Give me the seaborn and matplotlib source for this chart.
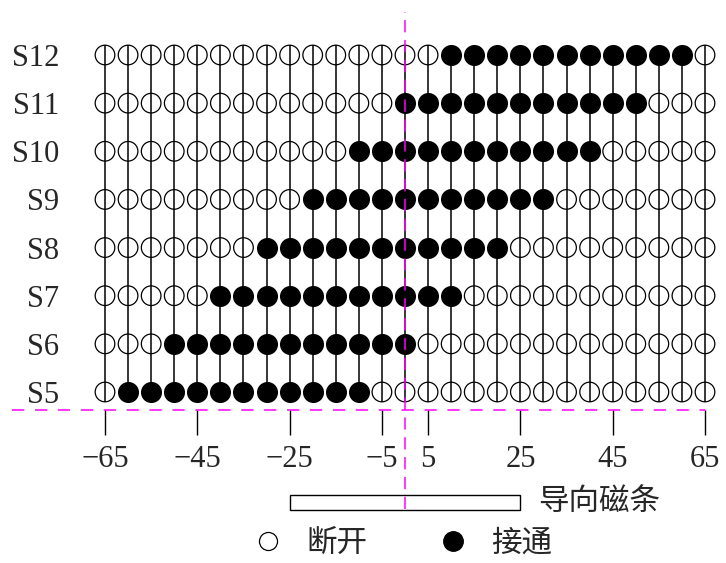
import numpy as np
import pandas as pd
import seaborn as sns
import matplotlib.pyplot as plt
from matplotlib.patches import Rectangle
from matplotlib.lines import Line2D

# sensor rows and positions (mm offset from strip centre)
sensors = ["S5", "S6", "S7", "S8", "S9", "S10", "S11", "S12"]
positions = list(range(-65, 70, 5))
# first / last position at which each sensor is on
on_start = [-60, -50, -40, -30, -20, -10, 0, 10]
on_end = [-10, 0, 10, 20, 30, 40, 50, 60]
xticks = [-65, -45, -25, -5, 5, 25, 45, 65]
strip = (-25, 25)

sns.set_style("white")
plt.rcParams['font.family'] = ['Liberation Serif', 'Noto Sans CJK SC']

rows = []
for i, name in enumerate(sensors):
    for p in positions:
        rows.append({"sensor": name, "row": i + 5, "pos": p,
                     "on": on_start[i] <= p <= on_end[i]})
df = pd.DataFrame(rows)

W, H = 726, 563
fig = plt.figure(figsize=(W / 100, H / 100), dpi=100)
ax = fig.add_axes([70 / W, (H - 410) / H, (W - 70) / W, 410 / H])

pxx = 600 / 130
pxy = (392 - 55) / 7
ax.set_xlim(-65 - 35 / pxx, 65 + 21 / pxx)
ax.set_ylim(5 - 18 / pxy, 12 + 55 / pxy)

# vertical wires
r = 10 / pxy
ax.vlines(positions, 5 - r, 12 + r, color='black', lw=1.1, zorder=1)

off = df[~df.on]
on = df[df.on]
ax.scatter(off.pos, off.row, s=200, facecolors='none', edgecolors='black',
           linewidths=0.9, zorder=2)
sns.scatterplot(data=on, x="pos", y="row", color='black', s=230,
                edgecolor='black', linewidth=0, ax=ax, zorder=3)

# reference lines
ax.hlines(5 - 18 / pxy, -65 - 93 / pxx, 65, color='#ff00ff', lw=1.1,
          linestyles=(0, (8, 7)), clip_on=False, zorder=4)
ax.vlines(0, 5 - 117 / pxy, 12 + 43 / pxy, color='#ff00ff', lw=1.1,
          linestyles=(0, (8, 5)), clip_on=False, zorder=4)

# guide strip
y0 = 5 - 510 / pxy + 392 / pxy
ax.add_patch(Rectangle((strip[0], y0), strip[1] - strip[0], 15 / pxy,
                       fill=False, ec='black', lw=1.0, clip_on=False, zorder=3))
ax.text(strip[1] + 18 / pxx, y0 + 8 / pxy, "导向磁条", fontsize=22,
        va='center', ha='left', family='Noto Sans CJK SC')

ax.set_xticks(xticks)
ax.set_yticks(range(5, 13))
ax.set_yticklabels(sensors)
ax.set_xlabel("")
ax.set_ylabel("")
ax.tick_params(axis='x', direction='out', length=18, width=1.0, pad=7,
               labelsize=22, bottom=True, color='black')
ax.tick_params(axis='y', length=0, pad=8, labelsize=22)
for s in ax.spines.values():
    s.set_visible(False)

handles = [Line2D([], [], ls='none', marker='o', ms=13, mfc='none',
                  mec='black', mew=0.9),
           Line2D([], [], ls='none', marker='o', ms=14, mfc='black',
                  mec='black')]
fig.legend(handles, ["断开", "接通"], loc='center left',
           bbox_to_anchor=(225 / W, (H - 543) / H), ncol=2, frameon=False,
           handlelength=1.0, handletextpad=0.75, columnspacing=2.3,
           prop={'family': 'Noto Sans CJK SC', 'size': 22})

fig.savefig("out.png", dpi=100)
